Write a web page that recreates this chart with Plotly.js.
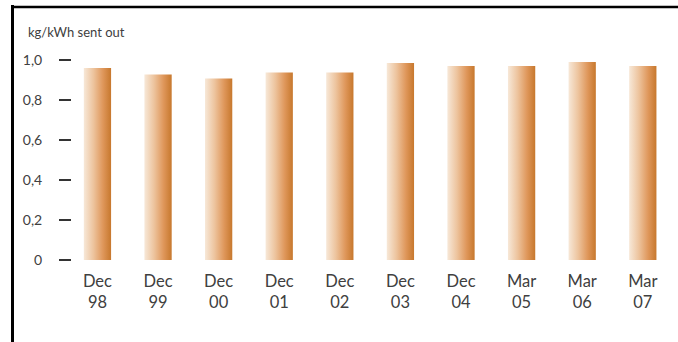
<!DOCTYPE html>
<html>
<head>
<meta charset="utf-8">
<script src="https://cdn.plot.ly/plotly-3.0.1.min.js"></script>
<style>
  html, body { margin: 0; padding: 0; background: #fff; }
  #chart { width: 678px; height: 342px; }
</style>
</head>
<body>
<div id="chart"></div>
<script>
// Reporting periods and emission intensity (kg/kWh sent out)
const periods = ['Dec<br>98', 'Dec<br>99', 'Dec<br>00', 'Dec<br>01', 'Dec<br>02',
                 'Dec<br>03', 'Dec<br>04', 'Mar<br>05', 'Mar<br>06', 'Mar<br>07'];
const intensity = [0.96, 0.928, 0.908, 0.937, 0.937, 0.985, 0.97, 0.97, 0.99, 0.97];
const yTickVals = [0, 0.2, 0.4, 0.6, 0.8, 1.0];
const yTickText = ['0', '0,2', '0,4', '0,6', '0,8', '1,0'];

const W = 678, H = 342;
const M = { l: 72, r: 14, t: 56, b: 82 };
const yMax = 1.02;
const textColor = '#404040';
const font = 'Lato, "Open Sans", sans-serif';

// frame lines (left and top) in paper coordinates
const plotW = W - M.l - M.r, plotH = H - M.t - M.b;
const px = x => (x - M.l) / plotW;
const py = y => (H - M.b - y) / plotH;

const layout = {
  width: W, height: H,
  margin: M,
  paper_bgcolor: '#fff', plot_bgcolor: '#fff',
  showlegend: false,
  bargap: 0.55,
  font: { family: font, color: textColor },
  title: {
    text: 'kg/kWh sent out',
    font: { family: font, size: 13, color: textColor },
    xref: 'container', yref: 'container',
    x: 28 / W, xanchor: 'left',
    y: 1 - 32 / H, yanchor: 'middle'
  },
  xaxis: {
    type: 'category',
    range: [-0.42, 9.35],
    showgrid: false, zeroline: false, showline: false,
    ticks: '',
    ticklabelstandoff: 9,
    tickfont: { family: font, size: 16.5, color: textColor }
  },
  yaxis: {
    range: [0, yMax],
    showgrid: false, zeroline: false, showline: false,
    ticks: 'outside', ticklen: 12, tickwidth: 1.3, tickcolor: '#333',
    tickvals: yTickVals, ticktext: yTickText,
    ticklabelstandoff: 14,
    tickfont: { family: font, size: 14, color: textColor }
  },
  shapes: [
    { type: 'line', xref: 'paper', yref: 'paper',
      x0: px(12.5), x1: px(12.5), y0: py(5), y1: py(H + 2),
      line: { color: '#000', width: 3 } },
    { type: 'line', xref: 'paper', yref: 'paper',
      x0: px(11), x1: px(W + 2), y0: py(7), y1: py(7),
      line: { color: '#000', width: 2.5 } }
  ]
};

const trace = {
  type: 'bar',
  x: periods,
  y: intensity,
  marker: { color: '#d98c48', line: { width: 0 } },
  hoverinfo: 'skip'
};

Plotly.newPlot('chart', [trace], layout, { staticPlot: true, displayModeBar: false })
  .then(gd => {
    // horizontal pale-to-copper shading on each bar
    const ns = 'http://www.w3.org/2000/svg';
    const svg = gd.querySelector('svg.main-svg');
    let defs = svg.querySelector('defs');
    if (!defs) { defs = document.createElementNS(ns, 'defs'); svg.insertBefore(defs, svg.firstChild); }
    const lg = document.createElementNS(ns, 'linearGradient');
    lg.setAttribute('id', 'barShade');
    lg.setAttribute('x1', '0'); lg.setAttribute('x2', '1');
    lg.setAttribute('y1', '0'); lg.setAttribute('y2', '0');
    [[0, '#f7e8d8'], [0.35, '#edc49e'], [0.7, '#df975b'], [1, '#c7782d']].forEach(([o, c]) => {
      const s = document.createElementNS(ns, 'stop');
      s.setAttribute('offset', o);
      s.setAttribute('stop-color', c);
      lg.appendChild(s);
    });
    defs.appendChild(lg);
    gd.querySelectorAll('.bars .point path').forEach(p => { p.style.fill = 'url(#barShade)'; });
  });
</script>
</body>
</html>
